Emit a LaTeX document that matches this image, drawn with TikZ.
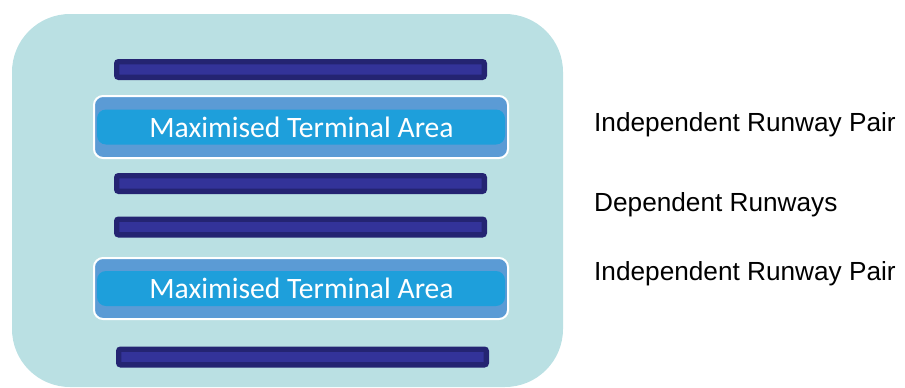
\documentclass[tikz,border=0pt]{standalone}
\usepackage{fontspec}
\setmainfont{Liberation Sans}
\newfontfamily\termfont{Carlito}
\definecolor{bgc}{HTML}{BAE0E3}
\definecolor{rwout}{HTML}{242472}
\definecolor{rwin}{HTML}{333399}
\definecolor{termc}{HTML}{5B9BD5}
\definecolor{bandc}{HTML}{1E9FDB}
\begin{document}
\begin{tikzpicture}[x=1pt,y=-1pt,
  runway/.style={draw=rwout,fill=rwin,line width=5.3pt,rounded corners=2pt,
    minimum width=367.7pt,minimum height=15.7pt,inner sep=0pt,outer sep=0pt},
  terminal/.style={draw=white,fill=termc,line width=2pt,rounded corners=9pt,
    minimum width=414pt,inner sep=0pt,outer sep=0pt,
    path picture={\fill[bandc] ([xshift=3pt,yshift=-17.5pt]path picture bounding box.west)
      rectangle ([xshift=-3pt,yshift=17.5pt]path picture bounding box.east);}},
  termtext/.style={text=white,font=\termfont\fontsize{29.6}{34}\selectfont,inner sep=0pt,anchor=base},
  label/.style={font=\fontsize{26.2}{31}\selectfont,inner sep=0pt,anchor=base west}]
\useasboundingbox (0,0) rectangle (905,388);
\node[fill=bgc,rounded corners=58pt,minimum width=551pt,minimum height=373pt,inner sep=0pt] (bg) at (287.5,200.5) {};
\node[runway] (r1) at (300.5,69.5) {};
\node[runway] (r2) at (300.5,183.5) {};
\node[runway] (r3) at (300.5,227) {};
\node[runway] (r4) at (302.5,357) {};
\node[terminal,minimum height=62pt] (t1) at (301,127) {};
\node[terminal,minimum height=61pt] (t2) at (301,288.5) {};
\node[termtext] (tt1) at (301.5,137.3) {Maximised Terminal Area};
\node[termtext] (tt2) at (301.5,298.3) {Maximised Terminal Area};
\node[label] (l1) at (594,131.7) {Independent Runway Pair};
\node[label] (l2) at (594,211.7) {Dependent Runways};
\node[label] (l3) at (594,280) {Independent Runway Pair};
\end{tikzpicture}
\end{document}
